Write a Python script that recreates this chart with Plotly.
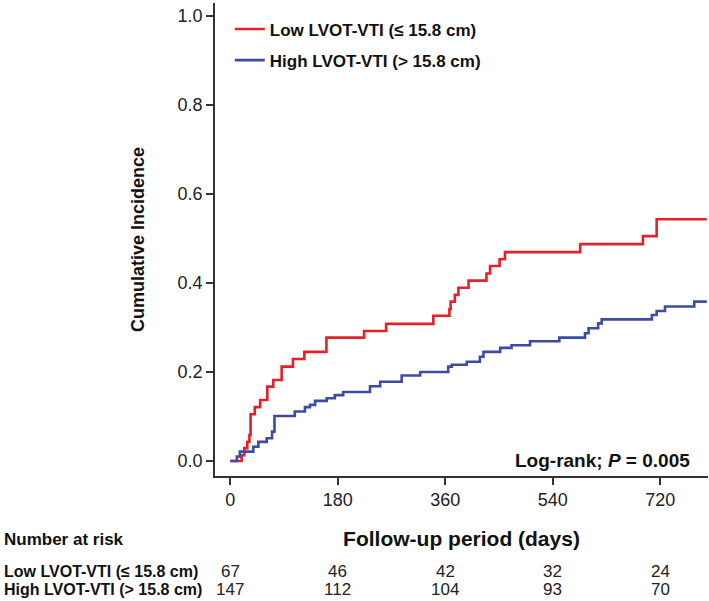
import plotly.graph_objects as go

# ---------------- data ----------------
low_days = [0, 19, 23.5, 28.5, 32, 34, 41, 50, 62, 72, 86, 105, 124, 161, 224, 261,
            340, 367, 369, 376, 382, 399, 429, 435, 451, 460, 586, 691, 714, 798]
low_inc = [0, 0.013, 0.029, 0.043, 0.058, 0.105, 0.121, 0.137, 0.167, 0.182, 0.212,
           0.229, 0.245, 0.277, 0.292, 0.308, 0.326, 0.341, 0.358, 0.373, 0.389,
           0.405, 0.421, 0.438, 0.453, 0.469, 0.487, 0.505, 0.543, 0.543]

high_days = [0, 11, 16, 38.5, 47, 61, 70, 74, 108, 125, 133.5, 142, 161.5, 175, 189,
             234, 251, 287, 318, 365, 371, 396, 418, 424, 452, 471, 502, 551, 594,
             600, 616, 622, 706, 714, 728, 777, 798]
high_inc = [0, 0.01, 0.021, 0.032, 0.043, 0.051, 0.066, 0.101, 0.111, 0.121, 0.126,
            0.135, 0.141, 0.148, 0.155, 0.168, 0.178, 0.192, 0.2, 0.212, 0.216, 0.223,
            0.234, 0.245, 0.254, 0.26, 0.269, 0.277, 0.287, 0.298, 0.309, 0.318,
            0.328, 0.337, 0.347, 0.358, 0.358]

x_ticks = [0, 180, 360, 540, 720]
y_ticks = [0.0, 0.2, 0.4, 0.6, 0.8, 1.0]
risk_low = [67, 46, 42, 32, 24]
risk_high = [147, 112, 104, 93, 70]

low_name = "Low LVOT-VTI (≤ 15.8 cm)"
high_name = "High LVOT-VTI (> 15.8 cm)"

RED = "#E5202B"
BLUE = "#3B4CA2"
FONT = "Liberation Sans, Arial, sans-serif"

fig = go.Figure()
fig.add_trace(go.Scatter(x=low_days, y=low_inc, mode="lines", line_shape="hv",
                         line=dict(color=RED, width=2.6), name="<b>" + low_name + "</b>",
                         legendgroup="a"))
fig.add_trace(go.Scatter(x=high_days, y=high_inc, mode="lines", line_shape="hv",
                         line=dict(color=BLUE, width=2.6), name="<b>" + high_name + "</b>",
                         legendgroup="b"))

# Log-rank annotation
fig.add_annotation(x=773, y=0.0, xref="x", yref="y", xanchor="right", yanchor="middle",
                   text="<b>Log-rank; <i>P</i> = 0.005</b>", showarrow=False,
                   font=dict(family=FONT, size=19, color="#111"))

# Number at risk table
fig.add_annotation(x=0, y=-0.135, xref="paper", yref="paper", xanchor="left",
                   yanchor="middle", xshift=-213, text="<b>Number at risk</b>",
                   showarrow=False, font=dict(family=FONT, size=17, color="#111"))
fig.add_annotation(x=0, y=-0.2023, xref="paper", yref="paper", xanchor="left",
                   yanchor="middle", xshift=-213, text="<b>" + low_name + "</b>",
                   showarrow=False, font=dict(family=FONT, size=16, color="#111"))
fig.add_annotation(x=0, y=-0.241, xref="paper", yref="paper", xanchor="left",
                   yanchor="middle", xshift=-213, text="<b>" + high_name + "</b>",
                   showarrow=False, font=dict(family=FONT, size=16, color="#111"))
for t, a, b in zip(x_ticks, risk_low, risk_high):
    fig.add_annotation(x=t, y=-0.2023, xref="x", yref="paper", xanchor="center",
                       yanchor="middle", text=str(a), showarrow=False,
                       font=dict(family=FONT, size=17, color="#222"))
    fig.add_annotation(x=t, y=-0.241, xref="x", yref="paper", xanchor="center",
                       yanchor="middle", text=str(b), showarrow=False,
                       font=dict(family=FONT, size=17, color="#222"))

fig.update_xaxes(range=[-25.6, 800], tickvals=x_ticks, ticktext=[str(v) for v in x_ticks],
                 ticks="outside", ticklen=7, tickwidth=1.5, tickcolor="#333",
                 showline=True, linecolor="#333", linewidth=1.5, showgrid=False,
                 zeroline=False, tickfont=dict(family=FONT, size=18, color="#222"),
                 title=dict(text="<b>Follow-up period (days)</b>", standoff=22,
                            font=dict(family=FONT, size=21, color="#111")))
fig.update_yaxes(range=[-0.0337, 1.0285], tickvals=y_ticks,
                 ticktext=["%.1f" % v for v in y_ticks],
                 ticks="outside", ticklen=7, tickwidth=1.5, tickcolor="#333",
                 showline=True, linecolor="#333", linewidth=1.5, showgrid=False,
                 zeroline=False, tickfont=dict(family=FONT, size=18, color="#222"),
                 title=dict(text="<b>Cumulative Incidence</b>", standoff=28,
                            font=dict(family=FONT, size=18, color="#111")))

fig.update_layout(
    width=709, height=601,
    margin=dict(l=215, r=1, t=3, b=125),
    plot_bgcolor="white", paper_bgcolor="white",
    legend=dict(x=0.03, y=0.982, xanchor="left", yanchor="top",
                font=dict(family=FONT, size=17, color="#111"),
                bgcolor="rgba(0,0,0,0)", traceorder="grouped", tracegroupgap=6,
                itemwidth=30),
    font=dict(family=FONT),
)

fig.write_html("out.html", config={"displayModeBar": False},
               post_script="document.body.style.margin='0';document.body.style.overflow='hidden';")
